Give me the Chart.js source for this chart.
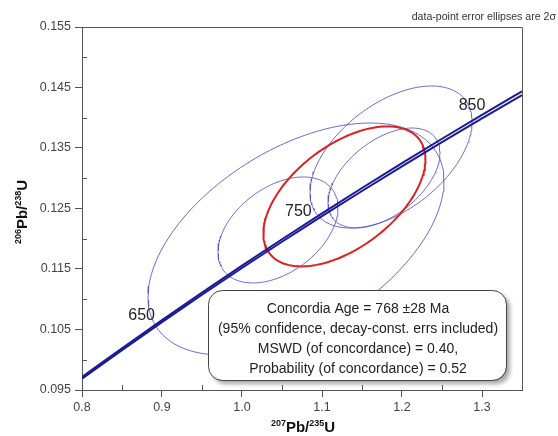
<!DOCTYPE html>
<html>
<head>
<meta charset="utf-8">
<script src="https://cdn.jsdelivr.net/npm/chart.js@4.4.0/dist/chart.umd.min.js"></script>
<style>
  body { margin: 0; background: #fff; }
  canvas { display: block; }
</style>
</head>
<body>
<canvas id="concordia" width="558" height="436"></canvas>
<script>
// Axis ticks
const xTicks = [0.8, 0.9, 1.0, 1.1, 1.2, 1.3];
const xMinorTicks = [0.85, 0.95, 1.05, 1.15, 1.25];
const yTicks = [0.095, 0.105, 0.115, 0.125, 0.135, 0.145, 0.155];
const yMinorTicks = [0.10, 0.11, 0.12, 0.13, 0.14, 0.15];

// Concordia curve (two edges of the decay-constant band)
const concordiaX = [0.80, 0.85, 0.90, 0.95, 1.00, 1.05, 1.10, 1.15, 1.20, 1.25, 1.30, 1.35];
const concordiaUpper = [0.09715, 0.10191, 0.10656, 0.11110, 0.11556, 0.11992, 0.12420, 0.12839, 0.13250, 0.13653, 0.14049, 0.14437];
const concordiaLower = [0.09685, 0.10159, 0.10622, 0.11074, 0.11516, 0.11950, 0.12374, 0.12789, 0.13196, 0.13597, 0.13989, 0.14375];

// Age marks on the curve (Ma)
const ageLabels = ['650', '750', '850'];
const ageX = [0.897, 1.093, 1.310];
const ageY = [0.1061, 0.1234, 0.1409];

// Data-point error ellipses (2 sigma): centre, half-widths, correlation
const pointX = [1.0675, 1.1863, 1.1775, 1.045];
const pointSx = [0.185, 0.1013, 0.070, 0.075];
const pointY = [0.11996, 0.13351, 0.13004, 0.12145];
const pointSy = [0.01917, 0.01174, 0.00826, 0.00876];
const pointRho = [0.5, 0.5, 0.5, 0.42];

// Concordia age ellipse
const ageEllipse = { x: 1.128, sx: 0.1013, y: 0.1270, sy: 0.01157, rho: 0.53 };

const noteText = 'data-point error ellipses are 2\u03c3';
const boxLines = [
    'Concordia Age = 768 \u00b128 Ma',
    '(95% confidence, decay-const. errs included)',
    'MSWD (of concordance) = 0.40,',
    'Probability (of concordance) = 0.52'
];

const FONT = '"Liberation Sans", Arial, sans-serif';

function ellipsePoints(cx, sx, cy, sy, rho) {
    const pts = [];
    const k = Math.sqrt(1 - rho * rho);
    for (let i = 0; i <= 180; i++) {
        const t = i / 180 * 2 * Math.PI;
        pts.push({ x: cx + sx * Math.cos(t), y: cy + sy * (rho * Math.cos(t) + k * Math.sin(t)) });
    }
    return pts;
}

const datasets = [];

datasets.push({
    data: concordiaX.map((x, i) => ({ x, y: concordiaUpper[i] })),
    borderColor: '#1a1a96', borderWidth: 2, showLine: true, pointRadius: 0,
    cubicInterpolationMode: 'monotone', order: 0
});
datasets.push({
    data: concordiaX.map((x, i) => ({ x, y: concordiaLower[i] })),
    borderColor: '#1a1a96', borderWidth: 2, showLine: true, pointRadius: 0,
    cubicInterpolationMode: 'monotone', order: 0
});

datasets.push({
    data: ellipsePoints(ageEllipse.x, ageEllipse.sx, ageEllipse.y, ageEllipse.sy, ageEllipse.rho),
    borderColor: '#dd2020', borderWidth: 2, showLine: true, pointRadius: 0, order: 1
});

pointX.forEach((cx, i) => {
    datasets.push({
        data: ellipsePoints(cx, pointSx[i], pointY[i], pointSy[i], pointRho[i]),
        borderColor: 'rgba(80, 80, 210, 0.85)', borderWidth: 1, showLine: true, pointRadius: 0, order: 2
    });
});

function drawRich(ctx, parts, x, y) {
    let total = 0;
    parts.forEach(p => { ctx.font = p.font; total += ctx.measureText(p.text).width; });
    let cur = x - total / 2;
    parts.forEach(p => {
        ctx.font = p.font;
        ctx.fillText(p.text, cur, y - (p.rise || 0));
        cur += ctx.measureText(p.text).width;
    });
}

function titleParts(a, b) {
    const big = 'bold 15px ' + FONT;
    const sup = 'bold 9px ' + FONT;
    return [
        { text: a, font: sup, rise: 6 },
        { text: 'Pb/', font: big },
        { text: b, font: sup, rise: 6 },
        { text: 'U', font: big }
    ];
}

const extras = {
    id: 'extras',
    beforeDatasetsDraw(chart) {
        const { ctx, chartArea: a, scales: { x, y } } = chart;
        ctx.save();
        ctx.strokeStyle = '#555';
        ctx.lineWidth = 1;
        ctx.beginPath();
        // frame top and right
        ctx.moveTo(a.left, a.top + 0.5);
        ctx.lineTo(a.right + 0.5, a.top + 0.5);
        ctx.lineTo(a.right + 0.5, a.bottom);
        // minor ticks inside
        xMinorTicks.forEach(v => {
            const px = Math.round(x.getPixelForValue(v)) + 0.5;
            ctx.moveTo(px, a.bottom);
            ctx.lineTo(px, a.bottom - 5);
        });
        yMinorTicks.forEach(v => {
            const py = Math.round(y.getPixelForValue(v)) + 0.5;
            ctx.moveTo(a.left, py);
            ctx.lineTo(a.left + 5, py);
        });
        ctx.stroke();
        ctx.restore();
    },
    afterDatasetsDraw(chart) {
        const { ctx, scales: { x, y } } = chart;
        ctx.save();
        // age labels
        ctx.fillStyle = '#222';
        ctx.font = '16px ' + FONT;
        ctx.textAlign = 'center';
        ctx.textBaseline = 'middle';
        ageLabels.forEach((t, i) => {
            ctx.fillText(t, x.getPixelForValue(ageX[i]) - 18, y.getPixelForValue(ageY[i]) - 7);
        });

        // result box
        const bx = 208, by = 290, bw = 298, bh = 90;
        ctx.save();
        ctx.shadowColor = 'rgba(0,0,0,0.35)';
        ctx.shadowOffsetX = 4;
        ctx.shadowOffsetY = 4;
        ctx.shadowBlur = 4;
        ctx.fillStyle = '#fff';
        ctx.beginPath();
        ctx.roundRect(bx, by, bw, bh, 14);
        ctx.fill();
        ctx.restore();
        ctx.strokeStyle = '#444';
        ctx.lineWidth = 1;
        ctx.beginPath();
        ctx.roundRect(bx + 0.5, by + 0.5, bw, bh, 14);
        ctx.stroke();
        ctx.fillStyle = '#222';
        ctx.font = '14px ' + FONT;
        boxLines.forEach((t, i) => {
            ctx.fillText(t, bx + bw / 2 + 1, by + 19 + i * 20);
        });
        ctx.restore();
    },
    afterDraw(chart) {
        const { ctx } = chart;
        ctx.save();
        ctx.fillStyle = '#111';
        ctx.textBaseline = 'alphabetic';
        ctx.textAlign = 'left';
        // x title
        drawRich(ctx, titleParts('207', '235'), 303, 432);
        // y title
        ctx.translate(27, 212);
        ctx.rotate(-Math.PI / 2);
        drawRich(ctx, titleParts('206', '238'), 0, 0);
        ctx.restore();

        ctx.save();
        ctx.fillStyle = '#333';
        ctx.font = '10.6px ' + FONT;
        ctx.textAlign = 'right';
        ctx.textBaseline = 'middle';
        ctx.fillText(noteText, 556, 17);
        ctx.restore();
    }
};

new Chart(document.getElementById('concordia'), {
    type: 'scatter',
    data: { datasets },
    options: {
        responsive: false,
        animation: false,
        layout: { padding: { top: 27, right: 36, left: 0, bottom: 0 } },
        plugins: { legend: { display: false }, tooltip: { enabled: false } },
        scales: {
            x: {
                type: 'linear',
                min: 0.8,
                max: 1.35,
                afterBuildTicks: s => { s.ticks = xTicks.map(v => ({ value: v })); },
                afterFit: s => { s.height = 46; },
                grid: { drawOnChartArea: false, drawTicks: true, tickLength: 7, tickColor: '#555' },
                border: { display: true, color: '#555' },
                ticks: {
                    padding: 3,
                    color: '#444',
                    font: { family: FONT, size: 12.5 },
                    maxRotation: 0,
                    callback: v => Number(v).toFixed(1)
                }
            },
            y: {
                type: 'linear',
                min: 0.095,
                max: 0.155,
                afterBuildTicks: s => { s.ticks = yTicks.map(v => ({ value: v })); },
                afterFit: s => { s.width = 82; },
                grid: { drawOnChartArea: false, drawTicks: true, tickLength: 7, tickColor: '#555' },
                border: { display: true, color: '#555' },
                ticks: {
                    padding: 4,
                    color: '#444',
                    font: { family: FONT, size: 12.5 },
                    callback: v => Number(v).toFixed(3)
                }
            }
        }
    },
    plugins: [extras]
});
</script>
</body>
</html>
